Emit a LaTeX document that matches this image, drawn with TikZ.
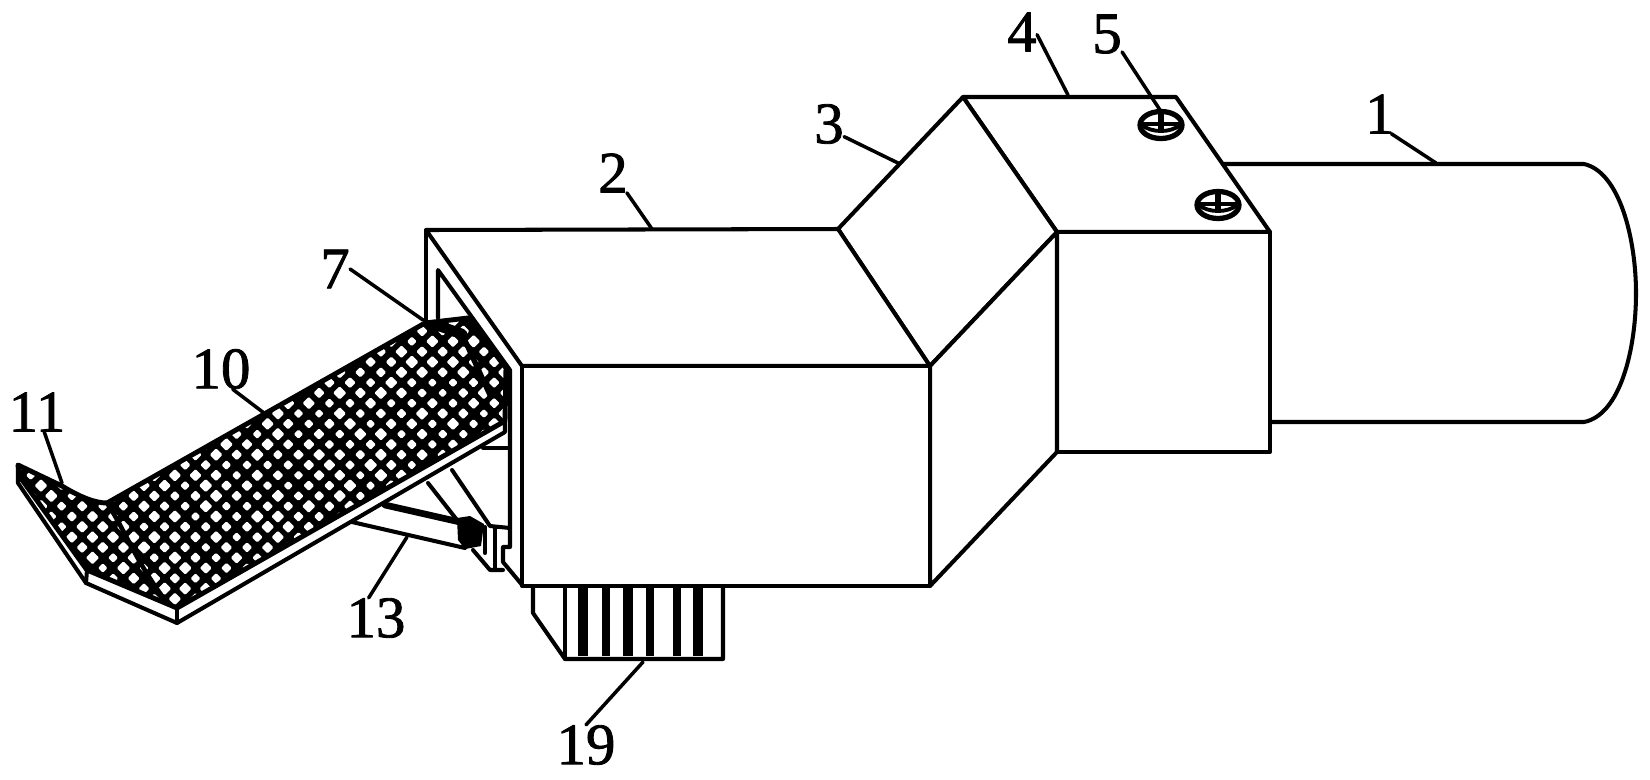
\documentclass[tikz,border=0pt]{standalone}
\usepackage{fontspec}
\newfontfamily\partfont[FakeBold=1.4]{Liberation Serif}
\usepackage{tikz}
\usetikzlibrary{positioning}
\tikzset{
screw head/.pic={
\draw[fill=white,line width=3pt] (0,0) ellipse [x radius=21,y radius=13.5];
\draw[line width=2.8pt] (-19,-1) -- (19,-1);
\draw[line width=2.2pt] (-19,0) .. controls (-10,8) and (10,8) .. (19,0);
\draw[line width=3pt] (0,-11) -- (0,4);
}}
\begin{document}
\begin{tikzpicture}
[x=0.02cm,y=-0.02cm,line cap=round,line join=round,
part line/.style={line width=2.3pt,draw=black},
leader line/.style={line width=2pt},
part label/.style={inner sep=0pt,font=\partfont\fontsize{33.5}{34}\selectfont}]
\useasboundingbox (0,0) rectangle (1650,779);
% The pipe at the back
\draw[part line] (1200,164) -- (1584,164)
.. controls (1620,172) and (1636,240) .. (1636,293)
.. controls (1636,350) and (1620,415) .. (1584,422) -- (1200,422);
% The housing
\filldraw[part line,fill=white] (963,97) -- (1176,97) -- (1270,232) -- (1057,232) -- cycle;
\filldraw[part line,fill=white] (1057,232) rectangle (1270,452);
\filldraw[part line,fill=white] (838,229) -- (963,97) -- (1057,232) -- (930,366) -- cycle;
\filldraw[part line,fill=white] (930,366) -- (1057,232) -- (1057,452) -- (930,586) -- cycle;
\pic at (1161,125) {screw head};
\pic at (1218,205) {screw head};
% The open end
\draw[part line] (426,230) -- (426,322);
\draw[part line] (438,318) -- (438,270) -- (510,370) -- (510,547) -- (503,547) -- (503,562) -- (523,586);
\draw[part line] (483,448) -- (510,448);
% Strut, bracket and rod
\draw[part line] (428,483) -- (457,520);
\draw[part line] (452,470) -- (490,526) -- (510,528);
\draw[part line] (495,528) -- (495,570);
\draw[part line] (485,527) -- (485,553);
\draw[part line] (473,550) -- (490,570) -- (503,570);
\draw[line width=3.8pt] (385,505) -- (460,522);
\draw[part line] (352,522) -- (465,548);
\fill (457,518) -- (470,516) -- (484,524) -- (481,546) -- (465,549) -- (458,540) -- cycle;
% The mesh plate
\pgfmathsetseed{7}
\begin{scope}
\clip (425,323) -- (468,318) -- (506,368) -- (505,421) -- (177,608) -- (87,570) -- (20,477)
-- (18,465) -- (62,486) .. controls (80,497) and (95,503) .. (107,503) -- cycle;
\fill (0,300) rectangle (520,640);
\foreach \i in {0,...,26}
\foreach \j in {0,...,32}
{
\pgfmathsetmacro{\hx}{-10.5+20.6*\i+10.3*mod(\j,2)}
\pgfmathsetmacro{\hy}{310.5+10.3*\j}
\pgfmathsetmacro{\hr}{4.6+2.2*rnd}
\fill[white,rounded corners=0.7pt] (\hx-\hr,\hy) -- (\hx,\hy-\hr) -- (\hx+\hr,\hy) -- (\hx,\hy+\hr) -- cycle;
}
\draw[line width=2.6pt] (107,503) .. controls (125,530) and (135,560) .. (165,600);
\draw[line width=6pt] (428,322) -- (462,334);
\draw[line width=3pt] (462,334) -- (490,395);
\end{scope}
\draw[part line,line width=2.8pt] (425,323) -- (468,318) -- (506,368) -- (505,421) -- (177,608) -- (87,570) -- (20,477)
-- (18,465) -- (62,486) .. controls (80,497) and (95,503) .. (107,503) -- cycle;
\draw[part line] (18,465) -- (18,483) -- (86,583) -- (177,623) -- (505,432) -- (505,421);
\draw[part line] (87,570) -- (86,583);
\draw[part line] (177,608) -- (177,623);
% The main box
\filldraw[part line,fill=white] (426,230) -- (838,229) -- (930,366) -- (522,366) -- cycle;
\filldraw[part line,fill=white] (522,366) rectangle (930,586);
% The comb below it
\draw[part line] (533,586) -- (533,613) -- (565,659) -- (723,659) -- (723,586);
\draw[part line] (565,586) -- (565,659);
\foreach \xbar/\wbar in {583/6pt,606/4pt,628/6pt,650/4.5pt,677/4.5pt,698/5.5pt}
\draw[line width=\wbar,line cap=butt] (\xbar,586) -- (\xbar,656);
% Labels
\foreach \n/\lx/\ly/\ang/\tx/\ty in {1/1380/114/-60/1436/163,2/613/173/-55/652/229,3/829/124/-40/898/163,
4/1022/32/-10/1068/95,5/1107/34/-50/1160/110,7/335/269/0/423/320,10/221/369/-60/264/413,
11/37/412/-70/62/483,13/376/618/110/407/537,19/586/745/90/643/662}
{
\node[part label] (label\n) at (\lx,\ly) {\n};
\coordinate (tip\n) at (\tx,\ty);
\draw[leader line] (label\n.\ang) -- (tip\n);
}
\end{tikzpicture}
\end{document}
